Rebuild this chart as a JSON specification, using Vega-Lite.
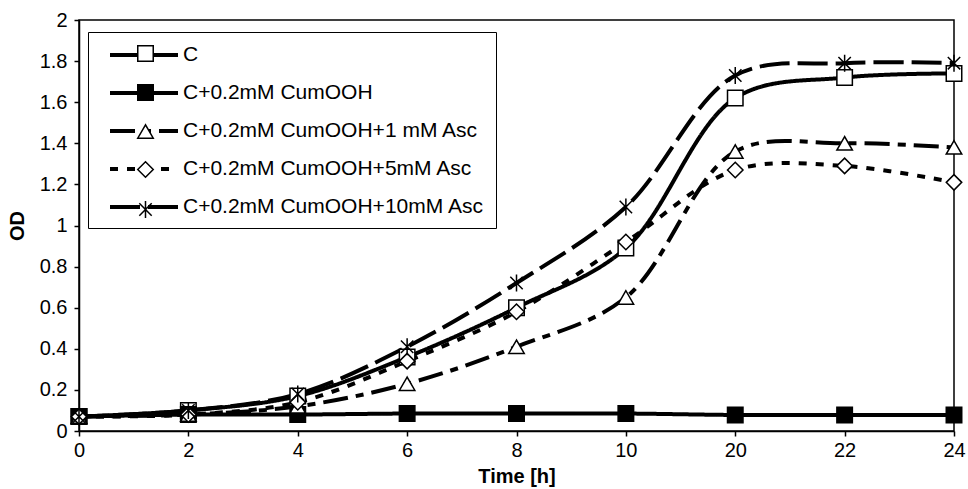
{
  "$schema": "https://vega.github.io/schema/vega-lite/v6.json",
  "width": 875,
  "height": 411,
  "autosize": {"type": "none"},
  "padding": {"left": 79, "top": 20, "right": 14, "bottom": 58},
  "background": "white",
  "config": {
    "font": "Liberation Sans",
    "view": {"stroke": "black", "strokeWidth": 1.5},
    "axis": {
      "grid": false,
      "domainColor": "black",
      "domainWidth": 1.5,
      "tickColor": "black",
      "tickWidth": 1.5,
      "tickSize": 5,
      "labelFont": "Liberation Sans",
      "labelFontSize": 20,
      "labelColor": "black",
      "titleFont": "Liberation Sans",
      "titleFontSize": 20,
      "titleFontWeight": "bold",
      "titleColor": "black"
    }
  },
  "resolve": {"legend": {"strokeDash": "independent", "shape": "independent", "fill": "independent"}},
  "data": {
    "values": [
      {"t": 0, "series": "C", "od": 0.07},
      {"t": 2, "series": "C", "od": 0.10},
      {"t": 4, "series": "C", "od": 0.17},
      {"t": 6, "series": "C", "od": 0.36},
      {"t": 8, "series": "C", "od": 0.60},
      {"t": 10, "series": "C", "od": 0.89},
      {"t": 20, "series": "C", "od": 1.62},
      {"t": 22, "series": "C", "od": 1.72},
      {"t": 24, "series": "C", "od": 1.74},
      {"t": 0, "series": "C+0.2mM CumOOH", "od": 0.07},
      {"t": 2, "series": "C+0.2mM CumOOH", "od": 0.08},
      {"t": 4, "series": "C+0.2mM CumOOH", "od": 0.08},
      {"t": 6, "series": "C+0.2mM CumOOH", "od": 0.085},
      {"t": 8, "series": "C+0.2mM CumOOH", "od": 0.085},
      {"t": 10, "series": "C+0.2mM CumOOH", "od": 0.085},
      {"t": 20, "series": "C+0.2mM CumOOH", "od": 0.078},
      {"t": 22, "series": "C+0.2mM CumOOH", "od": 0.078},
      {"t": 24, "series": "C+0.2mM CumOOH", "od": 0.078},
      {"t": 0, "series": "C+0.2mM CumOOH+1 mM Asc", "od": 0.07},
      {"t": 2, "series": "C+0.2mM CumOOH+1 mM Asc", "od": 0.08},
      {"t": 4, "series": "C+0.2mM CumOOH+1 mM Asc", "od": 0.12},
      {"t": 6, "series": "C+0.2mM CumOOH+1 mM Asc", "od": 0.23},
      {"t": 8, "series": "C+0.2mM CumOOH+1 mM Asc", "od": 0.41},
      {"t": 10, "series": "C+0.2mM CumOOH+1 mM Asc", "od": 0.65},
      {"t": 20, "series": "C+0.2mM CumOOH+1 mM Asc", "od": 1.36},
      {"t": 22, "series": "C+0.2mM CumOOH+1 mM Asc", "od": 1.40},
      {"t": 24, "series": "C+0.2mM CumOOH+1 mM Asc", "od": 1.38},
      {"t": 0, "series": "C+0.2mM CumOOH+5mM Asc", "od": 0.07},
      {"t": 2, "series": "C+0.2mM CumOOH+5mM Asc", "od": 0.08},
      {"t": 4, "series": "C+0.2mM CumOOH+5mM Asc", "od": 0.14},
      {"t": 6, "series": "C+0.2mM CumOOH+5mM Asc", "od": 0.34},
      {"t": 8, "series": "C+0.2mM CumOOH+5mM Asc", "od": 0.58},
      {"t": 10, "series": "C+0.2mM CumOOH+5mM Asc", "od": 0.92},
      {"t": 20, "series": "C+0.2mM CumOOH+5mM Asc", "od": 1.27},
      {"t": 22, "series": "C+0.2mM CumOOH+5mM Asc", "od": 1.29},
      {"t": 24, "series": "C+0.2mM CumOOH+5mM Asc", "od": 1.21},
      {"t": 0, "series": "C+0.2mM CumOOH+10mM Asc", "od": 0.07},
      {"t": 2, "series": "C+0.2mM CumOOH+10mM Asc", "od": 0.10},
      {"t": 4, "series": "C+0.2mM CumOOH+10mM Asc", "od": 0.18},
      {"t": 6, "series": "C+0.2mM CumOOH+10mM Asc", "od": 0.41},
      {"t": 8, "series": "C+0.2mM CumOOH+10mM Asc", "od": 0.72},
      {"t": 10, "series": "C+0.2mM CumOOH+10mM Asc", "od": 1.09},
      {"t": 20, "series": "C+0.2mM CumOOH+10mM Asc", "od": 1.73},
      {"t": 22, "series": "C+0.2mM CumOOH+10mM Asc", "od": 1.79},
      {"t": 24, "series": "C+0.2mM CumOOH+10mM Asc", "od": 1.79}
    ]
  },
  "encoding": {
    "x": {
      "field": "t",
      "type": "ordinal",
      "scale": {"type": "point", "padding": 0},
      "axis": {"labelAngle": 0, "title": "Time [h]", "labelPadding": 4, "titlePadding": 6}
    },
    "y": {
      "field": "od",
      "type": "quantitative",
      "scale": {"domain": [0, 2]},
      "axis": {
        "values": [0, 0.2, 0.4, 0.6, 0.8, 1, 1.2, 1.4, 1.6, 1.8, 2],
        "format": "~g",
        "title": "OD",
        "labelPadding": 7,
        "titlePadding": 12
      }
    }
  },
  "layer": [
    {
      "mark": {"type": "line", "interpolate": "catmull-rom", "strokeWidth": 4, "color": "black"},
      "encoding": {
        "strokeDash": {
          "field": "series",
          "type": "nominal",
          "scale": {
            "domain": ["C", "C+0.2mM CumOOH", "C+0.2mM CumOOH+1 mM Asc", "C+0.2mM CumOOH+5mM Asc", "C+0.2mM CumOOH+10mM Asc"],
            "range": [[1, 0], [1, 0], [25, 8, 8, 8], [8, 9], [30, 8]]
          },
          "legend": {
            "orient": "none",
            "legendX": 9,
            "legendY": 12,
            "title": null,
            "strokeColor": "black",
            "padding": 11,
            "symbolType": "M-3.4,0L3.4,0",
            "symbolSize": 400,
            "symbolStrokeWidth": 4,
            "symbolStrokeColor": "black",
            "symbolOffset": 33,
            "labelOffset": 27,
            "labelFontSize": 21,
            "labelColor": "black",
            "labelLimit": 0,
            "rowPadding": 16
          }
        }
      }
    },
    {
      "mark": {"type": "point", "filled": true, "size": 240, "stroke": "black", "strokeWidth": 1.5, "opacity": 1},
      "encoding": {
        "shape": {
          "field": "series",
          "type": "nominal",
          "scale": {
            "domain": ["C", "C+0.2mM CumOOH", "C+0.2mM CumOOH+1 mM Asc", "C+0.2mM CumOOH+5mM Asc", "C+0.2mM CumOOH+10mM Asc"],
            "range": ["square", "square", "triangle-up", "diamond", "M0,-1.1L0,1.1M-0.8,-0.8L0.8,0.8M-0.8,0.8L0.8,-0.8"]
          },
          "legend": {
            "orient": "top-left",
            "offset": 12,
            "title": null,
            "padding": 11,
            "symbolSize": 240,
            "symbolOffset": 33,
            "labelFontSize": 21,
            "labelExpr": "''",
            "labelLimit": 0,
            "rowPadding": 16,
            "encode": {"symbols": {"update": {"stroke": {"value": "black"}, "strokeWidth": {"value": 1.5}, "opacity": {"value": 1}}}}
          }
        },
        "fill": {
          "field": "series",
          "type": "nominal",
          "scale": {
            "domain": ["C", "C+0.2mM CumOOH", "C+0.2mM CumOOH+1 mM Asc", "C+0.2mM CumOOH+5mM Asc", "C+0.2mM CumOOH+10mM Asc"],
            "range": ["white", "black", "white", "white", "white"]
          },
          "legend": {
            "orient": "top-left",
            "offset": 12,
            "title": null,
            "padding": 11,
            "symbolSize": 240,
            "symbolOffset": 33,
            "labelFontSize": 21,
            "labelExpr": "''",
            "labelLimit": 0,
            "rowPadding": 16,
            "encode": {"symbols": {"update": {"stroke": {"value": "black"}, "strokeWidth": {"value": 1.5}, "opacity": {"value": 1}}}}
          }
        }
      }
    }
  ]
}
